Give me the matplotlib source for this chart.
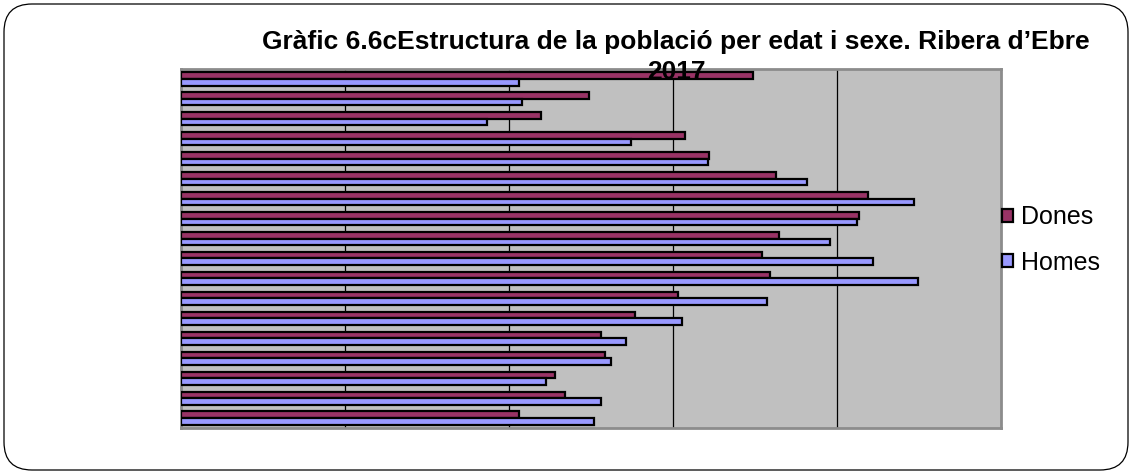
import matplotlib
matplotlib.use("Agg")
import matplotlib.pyplot as plt
from matplotlib.patches import Patch, FancyBboxPatch
import numpy as np

# Age groups, bottom (youngest) to top (oldest)
age_groups = ["0-4", "5-9", "10-14", "15-19", "20-24", "25-29", "30-34", "35-39",
              "40-44", "45-49", "50-54", "55-59", "60-64", "65-69", "70-74",
              "75-79", "80-84", "85+"]
# Values (% of population), listed bottom to top
dones = [4.12, 4.68, 4.56, 5.17, 5.12, 5.54, 6.06, 7.18, 7.09, 7.29, 8.27, 8.38,
         7.26, 6.44, 6.15, 4.39, 4.98, 6.98]
homes = [5.04, 5.12, 4.45, 5.24, 5.43, 6.11, 7.15, 8.99, 8.44, 7.91, 8.24, 8.94,
         7.63, 6.43, 5.49, 3.73, 4.16, 4.12]
series_names = ["Dones", "Homes"]
title_line1 = "Gràfic 6.6cEstructura de la població per edat i sexe. Ribera d’Ebre"
title_line2 = "2017"

col_dones = "#993366"
col_homes = "#9999FF"

W, H = 1132, 475
fig = plt.figure(figsize=(W / 100, H / 100), dpi=100)

# rounded outer border
border = FancyBboxPatch((4 / 100, 5 / 100), (1128 - 4) / 100, (470 - 4) / 100,
                        boxstyle="round,pad=0,rounding_size=0.28",
                        transform=fig.dpi_scale_trans, facecolor="none",
                        edgecolor="black", linewidth=0.9, zorder=10)
fig.patches.append(border)

ax = fig.add_axes([181 / W, 1 - 428 / H, 820 / W, 359 / H])
ax.set_facecolor("#C0C0C0")

y = np.arange(len(age_groups))
h = 0.33
ax.barh(y + h / 2, dones, height=h, color=col_dones, edgecolor="black",
        linewidth=1.6, zorder=3)
ax.barh(y - h / 2, homes, height=h, color=col_homes, edgecolor="black",
        linewidth=1.6, zorder=3)

ax.set_xlim(0, 10)
ax.set_ylim(-0.5, len(age_groups) - 0.5)
for gx in [2, 4, 6, 8]:
    ax.axvline(gx, color="black", linewidth=0.9, zorder=1)
ax.set_xticks([])
ax.set_yticks([])
for s in ax.spines.values():
    s.set_color("#8c8c8c")
    s.set_linewidth(2)

fig.text(676 / W, 1 - 49 / H, title_line1, ha="center", va="baseline",
         fontsize=19, fontweight="bold", family="Liberation Sans", zorder=5)
fig.text(676 / W, 1 - 79 / H, title_line2, ha="center", va="baseline",
         fontsize=19, fontweight="bold", family="Liberation Sans", zorder=5)

handles = [Patch(facecolor=col_dones, edgecolor="black", linewidth=1.6),
           Patch(facecolor=col_homes, edgecolor="black", linewidth=1.6)]
fig.legend(handles, series_names, loc="center left",
           bbox_to_anchor=(1002 / W, 1 - 240 / H), frameon=False,
           prop={"family": "Liberation Sans", "size": 18},
           handlelength=0.45, handleheight=0.45, handletextpad=0.3,
           labelspacing=0.85, borderpad=0, borderaxespad=0)

fig.savefig("out.png", dpi=100)
